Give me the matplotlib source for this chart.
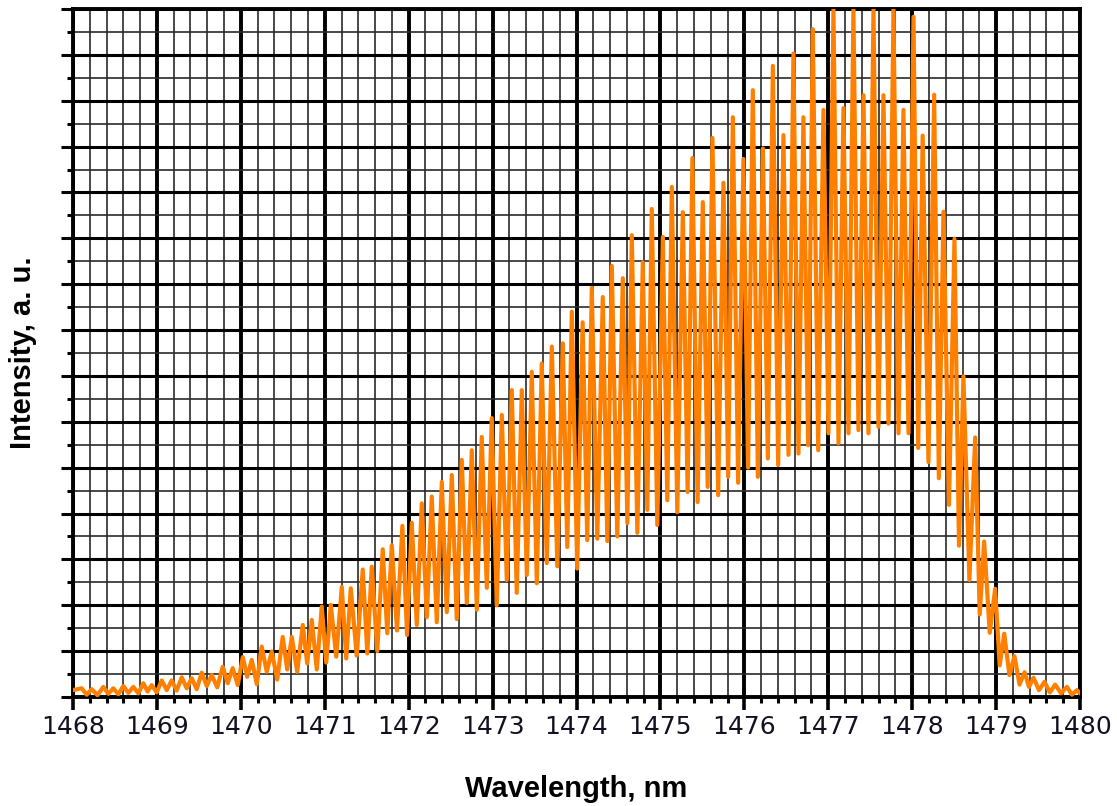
import numpy as np
import matplotlib
matplotlib.use("Agg")
import matplotlib.pyplot as plt
from matplotlib.ticker import MultipleLocator, NullFormatter

# ---- data (wavelength nm, intensity a.u.) ----
peak_x = [1468.104, 1468.223, 1468.361, 1468.480, 1468.600, 1468.719, 1468.838, 1468.938,
          1469.057, 1469.176, 1469.296, 1469.415, 1469.534, 1469.653, 1469.784, 1469.903,
          1470.023, 1470.130, 1470.249, 1470.368, 1470.499, 1470.607, 1470.738, 1470.845,
          1470.964, 1471.072, 1471.203, 1471.310, 1471.453, 1471.560, 1471.691, 1471.799,
          1471.925, 1472.037, 1472.156, 1472.275, 1472.395, 1472.514, 1472.633, 1472.752,
          1472.871, 1472.990, 1473.110, 1473.229, 1473.348, 1473.467, 1473.586, 1473.706,
          1473.837, 1473.944, 1474.073, 1474.182, 1474.313, 1474.421, 1474.552, 1474.659,
          1474.790, 1474.897, 1475.029, 1475.136, 1475.267, 1475.381, 1475.505, 1475.620,
          1475.751, 1475.863, 1475.989, 1476.101, 1476.221, 1476.340, 1476.466, 1476.585,
          1476.704, 1476.816, 1476.943, 1477.062, 1477.181, 1477.300, 1477.420, 1477.539,
          1477.658, 1477.777, 1477.896, 1478.016, 1478.125, 1478.262, 1478.373, 1478.504,
          1478.611, 1478.751, 1478.858, 1478.989, 1479.097, 1479.219, 1479.339, 1479.446,
          1479.577, 1479.704, 1479.844, 1479.963]
peak_y = [0.19, 0.17, 0.22, 0.19, 0.24, 0.22, 0.30, 0.26,
          0.36, 0.36, 0.43, 0.41, 0.53, 0.48, 0.66, 0.63,
          0.87, 0.81, 1.10, 0.99, 1.31, 1.31, 1.57, 1.68,
          1.97, 2.01, 2.40, 2.37, 2.78, 2.84, 3.22, 3.31,
          3.73, 3.80, 4.22, 4.37, 4.69, 4.84, 5.17, 5.38,
          5.67, 6.08, 6.15, 6.69, 6.69, 7.09, 7.27, 7.64,
          7.71, 8.40, 8.17, 8.92, 8.72, 9.40, 9.13, 10.07,
          9.48, 10.64, 10.03, 11.12, 10.57, 11.75, 10.79, 12.19,
          11.21, 12.64, 11.73, 13.23, 11.96, 13.76, 12.25, 14.03,
          12.64, 14.56, 12.80, 15.0, 12.84, 15.0, 13.12, 15.0,
          13.12, 15.0, 12.80, 14.83, 12.24, 13.13, 10.58, 9.99,
          6.99, 5.66, 3.39, 2.36, 1.38, 0.89, 0.54, 0.42,
          0.33, 0.27, 0.22, 0.15]

valley_x = [1468.000, 1468.163, 1468.292, 1468.421, 1468.540, 1468.659, 1468.778, 1468.888,
            1468.998, 1469.117, 1469.236, 1469.355, 1469.474, 1469.594, 1469.719, 1469.844,
            1469.963, 1470.076, 1470.190, 1470.309, 1470.434, 1470.553, 1470.672, 1470.791,
            1470.905, 1471.018, 1471.137, 1471.256, 1471.381, 1471.507, 1471.626, 1471.745,
            1471.861, 1471.981, 1472.097, 1472.216, 1472.335, 1472.454, 1472.573, 1472.693,
            1472.812, 1472.931, 1473.050, 1473.169, 1473.288, 1473.408, 1473.527, 1473.646,
            1473.771, 1473.890, 1474.008, 1474.128, 1474.248, 1474.367, 1474.486, 1474.606,
            1474.725, 1474.844, 1474.963, 1475.082, 1475.201, 1475.324, 1475.443, 1475.563,
            1475.688, 1475.807, 1475.926, 1476.045, 1476.161, 1476.280, 1476.403, 1476.526,
            1476.645, 1476.760, 1476.880, 1477.002, 1477.122, 1477.241, 1477.360, 1477.479,
            1477.598, 1477.718, 1477.837, 1477.956, 1478.072, 1478.194, 1478.318, 1478.439,
            1478.558, 1478.682, 1478.805, 1478.924, 1479.043, 1479.159, 1479.279, 1479.392,
            1479.511, 1479.641, 1479.774, 1479.904, 1480.000]
valley_y = [0.15, 0.05, 0.04, 0.07, 0.06, 0.09, 0.08, 0.12,
            0.10, 0.15, 0.14, 0.19, 0.17, 0.24, 0.21, 0.30,
            0.26, 0.44, 0.28, 0.55, 0.38, 0.60, 0.55, 0.73,
            0.60, 0.75, 0.88, 0.84, 0.90, 0.95, 1.00, 1.39,
            1.45, 1.35, 1.57, 1.74, 1.63, 1.85, 1.70, 2.05,
            1.90, 2.38, 2.00, 2.55, 2.27, 2.66, 2.48, 2.92,
            2.85, 3.27, 2.80, 3.42, 3.45, 3.40, 3.50, 3.79,
            3.58, 4.08, 3.75, 4.29, 4.03, 4.47, 4.25, 4.58,
            4.40, 4.80, 4.67, 5.00, 4.80, 5.20, 5.06, 5.28,
            5.31, 5.49, 5.38, 5.75, 5.53, 5.75, 5.82, 5.75,
            5.89, 5.96, 5.75, 5.75, 5.43, 5.12, 4.77, 4.19,
            3.30, 2.55, 1.80, 1.40, 0.69, 0.48, 0.27, 0.22,
            0.15, 0.10, 0.08, 0.05, 0.08]

x_ticks = [1468, 1469, 1470, 1471, 1472, 1473, 1474, 1475, 1476, 1477, 1478, 1479, 1480]

# ---- build the trace ----
xs = np.concatenate([peak_x, valley_x])
ys = np.concatenate([peak_y, valley_y])
order = np.argsort(xs)
xs, ys = xs[order], ys[order]

fig = plt.figure(figsize=(11.17, 8.06), dpi=100)
ax = fig.add_axes([73/1117, 1 - 697/806, (1080 - 73)/1117, (697 - 9)/806])

ax.plot(xs, ys, color='#FF8000', lw=3.0, solid_joinstyle='round',
        solid_capstyle='round', zorder=3)

ax.set_xlim(1468, 1480)
ax.set_ylim(0, 15)
ax.set_xticks(x_ticks)
ax.set_xticklabels([str(t) for t in x_ticks])
ax.xaxis.set_minor_locator(MultipleLocator(0.2))
ax.yaxis.set_major_locator(MultipleLocator(1))
ax.yaxis.set_minor_locator(MultipleLocator(0.5))
ax.yaxis.set_major_formatter(NullFormatter())

ax.xaxis.grid(True, which='major', color='black', lw=2.8, zorder=1)
ax.yaxis.grid(True, which='major', color='black', lw=2.2, zorder=1)
ax.grid(True, which='minor', color='#2a2a2a', lw=1.2, zorder=1)
ax.set_axisbelow(True)

for s in ax.spines.values():
    s.set_linewidth(2.8)
    s.set_color('black')

ax.tick_params(axis='x', which='major', direction='out', length=9, width=2.6,
               labelsize=18, pad=4, colors='black')
ax.tick_params(axis='x', which='minor', direction='out', length=4.5, width=2.2)
ax.tick_params(axis='y', which='major', direction='out', length=9, width=2.2, labelleft=False)
ax.tick_params(axis='y', which='minor', direction='out', length=4.5, width=2.2)
for lab in ax.get_xticklabels():
    lab.set_fontfamily('DejaVu Sans')
    lab.set_color('#111122')

ax.set_xlabel('Wavelength, nm', fontsize=21, fontweight='bold',
              fontfamily='Liberation Sans', labelpad=26)
ax.set_ylabel('Intensity, a. u.', fontsize=21, fontweight='bold',
              fontfamily='Liberation Sans')
ax.yaxis.set_label_coords((37 - 73) / 1007, 0.5)

fig.savefig('out.png', dpi=100)
